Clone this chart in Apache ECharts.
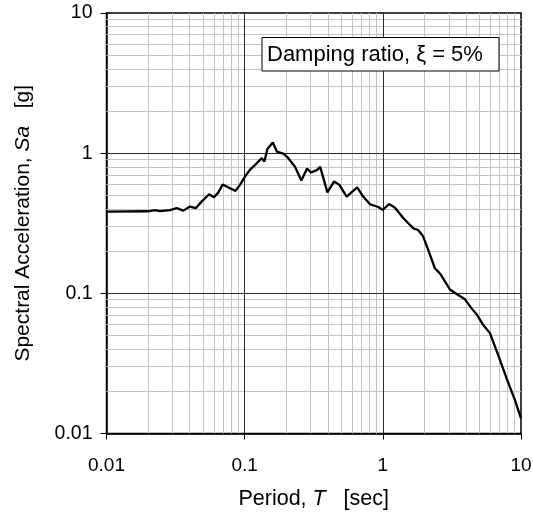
<!DOCTYPE html>
<html><head><meta charset="utf-8">
<script src="https://cdn.jsdelivr.net/npm/echarts@6/dist/echarts.min.js"></script>
<style>html,body{margin:0;padding:0;background:#fff}#c{width:533px;height:520px}</style>
</head><body><div id="c"></div>
<script>
// Period T [sec]
const periods = [0.01, 0.02, 0.0224, 0.0244, 0.0288, 0.0322, 0.036, 0.0402, 0.0442, 0.0488, 0.0552, 0.06, 0.0644, 0.0693, 0.0783, 0.0858, 0.0925, 0.1005, 0.109, 0.119, 0.133, 0.139, 0.146, 0.16, 0.171, 0.18, 0.192, 0.207, 0.231, 0.257, 0.283, 0.303, 0.335, 0.352, 0.397, 0.443, 0.485, 0.547, 0.652, 0.721, 0.811, 0.927, 1.0, 1.11, 1.22, 1.41, 1.66, 1.8, 1.95, 2.13, 2.38, 2.6, 3.06, 3.42, 3.93, 4.39, 4.82, 5.33, 5.96, 6.84, 7.87, 9.04, 10];
// Spectral acceleration Sa [g]
const sa = [0.383, 0.385, 0.392, 0.386, 0.393, 0.405, 0.389, 0.416, 0.405, 0.451, 0.509, 0.485, 0.523, 0.597, 0.562, 0.538, 0.594, 0.681, 0.76, 0.825, 0.921, 0.871, 1.069, 1.19, 1.026, 1.01, 0.989, 0.921, 0.802, 0.637, 0.776, 0.727, 0.76, 0.798, 0.525, 0.627, 0.594, 0.49, 0.57, 0.49, 0.431, 0.413, 0.394, 0.434, 0.409, 0.343, 0.291, 0.283, 0.257, 0.204, 0.151, 0.138, 0.1065, 0.0989, 0.0906, 0.0781, 0.07, 0.0594, 0.052, 0.0362, 0.0247, 0.0173, 0.0128];
const xTickLabels = ['0.01', '0.1', '1', '10'];
const yTickLabels = ['0.01', '0.1', '1', '10'];
const annotation = 'Damping ratio, ξ = 5%';

const decades = [0.01, 0.1, 1];
const minorVals = [];
decades.forEach(d => { for (let k = 2; k <= 9; k++) minorVals.push(+(k * d).toPrecision(3)); });
const majorInner = [0.1, 1];

const FONT = 'Liberation Sans, Arial, sans-serif';
const chart = echarts.init(document.getElementById('c'), null, {renderer: 'canvas'});
const fmt = v => String(+(+v).toPrecision(3));

chart.setOption({
  animation: false,
  backgroundColor: '#fff',
  grid: {left: 106.5, right: 12, top: 13, bottom: 86.5, show: true, borderColor: '#000', borderWidth: 1.5, backgroundColor: 'transparent', outerBoundsMode: 'none'},
  xAxis: {
    type: 'log', logBase: 10, min: 0.01, max: 10,
    axisLine: {show: true, lineStyle: {color: '#000', width: 1.5}},
    axisTick: {show: true, length: 6, lineStyle: {color: '#000', width: 1}},
    splitLine: {show: false}, minorTick: {show: false},
    axisLabel: {color: '#000', fontSize: 19, fontFamily: FONT, margin: 23, formatter: v => { const s = fmt(v); return xTickLabels.includes(s) ? s : ''; }},
    name: '{a|Period, }{i|T}{a|   [sec]}', nameLocation: 'middle', nameGap: 55,
    nameTextStyle: {rich: {a: {fontSize: 21.5, fontFamily: FONT, color: '#000'}, i: {fontSize: 21.5, fontFamily: FONT, fontStyle: 'italic', color: '#000'}}}
  },
  yAxis: {
    type: 'log', logBase: 10, min: 0.01, max: 10,
    axisLine: {show: true, lineStyle: {color: '#000', width: 1.5}},
    axisTick: {show: true, length: 6, lineStyle: {color: '#000', width: 1}},
    splitLine: {show: false}, minorTick: {show: false},
    axisLabel: {color: '#000', fontSize: 19.5, fontFamily: FONT, margin: 14, formatter: v => { const s = fmt(v); return yTickLabels.includes(s) ? s : ''; }},
    name: '{a|Spectral Acceleration, }{i|Sa}{a|   [g]}', nameLocation: 'middle', nameRotate: 90, nameGap: 73,
    nameTextStyle: {rich: {a: {fontSize: 21, fontFamily: FONT, color: '#000'}, i: {fontSize: 21, fontFamily: FONT, fontStyle: 'italic', color: '#000'}}}
  },
  graphic: [
    {type: 'rect', z: 200, zlevel: 0, shape: {x: 262, y: 37.5, width: 237, height: 33.5}, style: {fill: '#fff', stroke: '#000', lineWidth: 1}},
    {type: 'text', z: 201, x: 267, y: 54.5, style: {text: annotation, font: '22px ' + FONT, fill: '#000', verticalAlign: 'middle', align: 'left'}}
  ],
  series: [
    {
      type: 'line', z: 1, data: [[0.01, 0.01]], symbol: 'none', lineStyle: {opacity: 0}, silent: true,
      markLine: {silent: true, symbol: ['none', 'none'], label: {show: false}, animation: false,
        lineStyle: {color: '#c3c3c3', width: 1, type: 'solid'},
        emphasis: {disabled: true},
        data: minorVals.map(v => ({xAxis: v})).concat(minorVals.map(v => ({yAxis: v})))}
    },
    {
      type: 'line', z: 2, data: [[0.01, 0.01]], symbol: 'none', lineStyle: {opacity: 0}, silent: true,
      markLine: {silent: true, symbol: ['none', 'none'], label: {show: false}, animation: false,
        lineStyle: {color: '#2a2a2a', width: 1, type: 'solid'},
        emphasis: {disabled: true},
        data: majorInner.map(v => ({xAxis: v})).concat(majorInner.map(v => ({yAxis: v})))}
    },
    {
      type: 'line', z: 5, data: periods.map((t, i) => [t, sa[i]]), symbol: 'none', smooth: false,
      lineStyle: {color: '#000', width: 2.3}, clip: true
    }
  ]
});
</script></body></html>
